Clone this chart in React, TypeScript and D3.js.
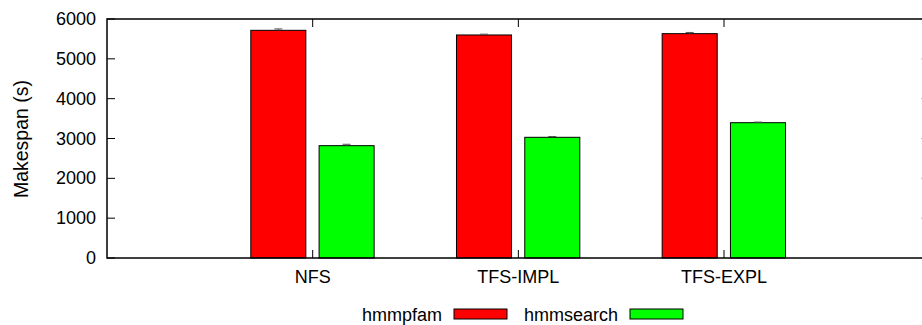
import React from "react";
import * as d3 from "d3";

// Benchmark makespans (seconds) per file-system configuration
const categories = ["NFS", "TFS-IMPL", "TFS-EXPL"];
const seriesNames = ["hmmpfam", "hmmsearch"];
const hmmpfam = [5716, 5599, 5632];
const hmmsearch = [2820, 3030, 3397];
const hmmpfamErr = [35, 20, 30];
const hmmsearchErr = [35, 20, 15];
const yTicks = [0, 1000, 2000, 3000, 4000, 5000, 6000];

const W = 922;
const H = 325;
const FONT = "'Liberation Sans', Arial, Helvetica, sans-serif";
const COLORS = ["#ff0000", "#00ff00"];

export default function App() {
  const left = 107;
  const top = 19;
  const bottom = 258;
  const right = 929.7;

  const x = d3.scaleLinear().domain([-1, categories.length]).range([left, right]);
  const y = d3.scaleLinear().domain([0, 6000]).range([bottom, top]);

  const unit = x(1) - x(0);
  const barW = unit * 0.2676;
  const offsets = [-0.167, 0.165];
  const values = [hmmpfam, hmmsearch];
  const errs = [hmmpfamErr, hmmsearchErr];
  const tickLen = 8;

  return (
    <svg
      width={W}
      height={H}
      style={{ position: "absolute", left: 0, top: 0, background: "#fff" }}
      fontFamily={FONT}
    >
      <rect x={0} y={0} width={W} height={H} fill="#fff" />

      {/* bars with error caps */}
      {values.map((vals, s) =>
        vals.map((v, i) => {
          const cx = x(i + offsets[s]);
          const e = errs[s][i];
          return (
            <g key={`b-${s}-${i}`}>
              <rect
                x={cx - barW / 2}
                y={y(v)}
                width={barW}
                height={y(0) - y(v)}
                fill={COLORS[s]}
                stroke="#000"
                strokeWidth={1}
              />
              <line x1={cx} x2={cx} y1={y(v + e)} y2={y(v)} stroke="#555" strokeWidth={1} />
              <line x1={cx - 4} x2={cx + 4} y1={y(v + e)} y2={y(v + e)} stroke="#555" strokeWidth={1} />
            </g>
          );
        })
      )}

      {/* y ticks, mirrored on right */}
      {yTicks.map((t) => (
        <g key={`yt-${t}`}>
          <line x1={left} x2={left + tickLen} y1={y(t)} y2={y(t)} stroke="#000" strokeWidth={1} />
          <line x1={right} x2={right - tickLen} y1={y(t)} y2={y(t)} stroke="#000" strokeWidth={1} />
          <text
            x={96}
            y={y(t)}
            textAnchor="end"
            dominantBaseline="central"
            fontSize={18}
            fill="#000"
          >
            {t}
          </text>
        </g>
      ))}

      {/* x ticks, mirrored on top */}
      {categories.map((c, i) => (
        <g key={`xt-${c}`}>
          <line x1={x(i)} x2={x(i)} y1={bottom} y2={bottom - tickLen} stroke="#000" strokeWidth={1} />
          <line x1={x(i)} x2={x(i)} y1={top} y2={top + tickLen} stroke="#000" strokeWidth={1} />
          <text x={x(i)} y={283} textAnchor="middle" fontSize={18} fill="#000">
            {c}
          </text>
        </g>
      ))}

      {/* frame */}
      <rect
        x={left}
        y={top}
        width={right - left}
        height={bottom - top}
        fill="none"
        stroke="#000"
        strokeWidth={1.5}
      />

      {/* axis title */}
      <text
        transform={`translate(21,139) rotate(-90)`}
        textAnchor="middle"
        dominantBaseline="central"
        fontSize={19.5}
        fill="#000"
      >
        Makespan (s)
      </text>

      {/* legend */}
      {seriesNames.map((n, s) => {
        const sx = [454, 630][s];
        return (
          <g key={`lg-${n}`}>
            <text x={sx - 12} y={321} textAnchor="end" fontSize={18} fill="#000">
              {n}
            </text>
            <rect x={sx} y={309} width={53} height={10} fill={COLORS[s]} stroke="#000" strokeWidth={1} />
          </g>
        );
      })}
    </svg>
  );
}
